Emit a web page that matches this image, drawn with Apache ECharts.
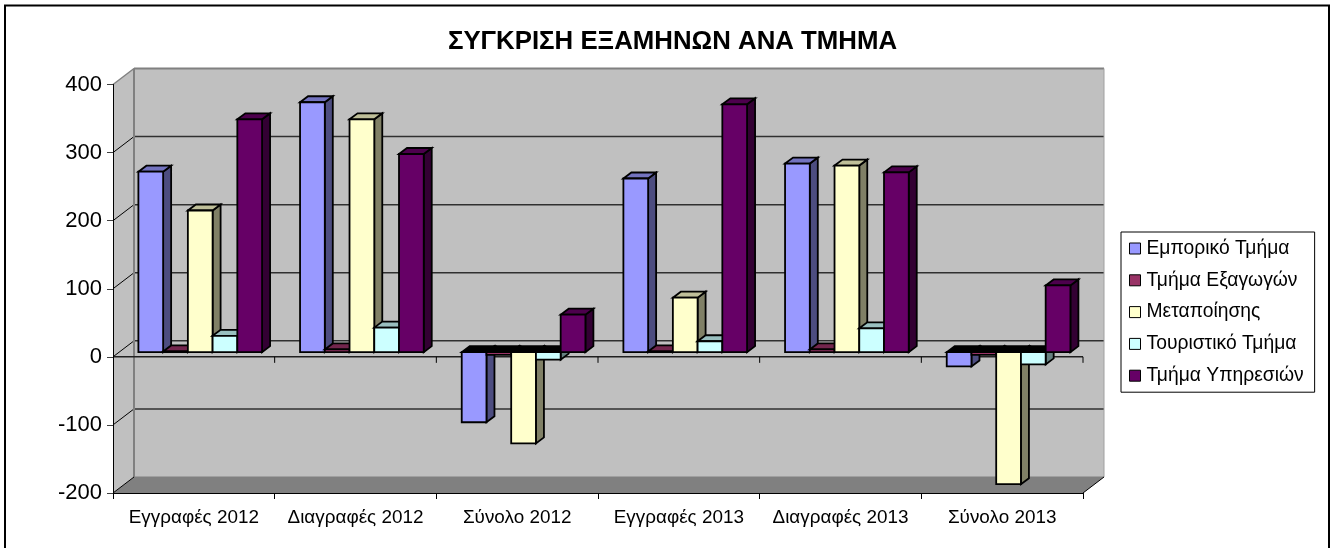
<!DOCTYPE html>
<html>
<head>
<meta charset="utf-8">
<script src="https://cdn.jsdelivr.net/npm/echarts@6/dist/echarts.min.js"></script>
<style>html,body{margin:0;padding:0;background:#fff}#c{width:1330px;height:548px}</style>
</head>
<body>
<div id="c"></div>
<script>
const titleText = 'ΣΥΓΚΡΙΣΗ ΕΞΑΜΗΝΩΝ ΑΝΑ ΤΜΗΜΑ';
const categories = ['Εγγραφές 2012','Διαγραφές 2012','Σύνολο 2012','Εγγραφές 2013','Διαγραφές 2013','Σύνολο 2013'];
const valueTicks = [-200,-100,0,100,200,300,400];
const seriesNames = ['Εμπορικό Τμήμα','Τμήμα Εξαγωγών','Μεταποίησης','Τουριστικό Τμήμα','Τμήμα Υπηρεσιών'];
const seriesColors = ['#9999FF','#993366','#FFFFCC','#CCFFFF','#660066'];
const emporiko    = [265, 367, -103, 255, 277, -21];
const exagogon    = [1, 4, -4, 1, 4, -4];
const metapoiisis = [208, 342, -134, 80, 274, -194];
const touristiko  = [24, 36, -11, 16, 35, -18];
const ypiresion   = [342, 291, 55, 364, 264, 98];
const seriesValues = [emporiko, exagogon, metapoiisis, touristiko, ypiresion];

const FONT = '"Liberation Sans", Arial, sans-serif';
// oblique projection of the box: back wall offset and the bars' placement in depth
const WALL_DX = 21, WALL_DY = -16;
const BAR_DX = 6.4, BAR_DY = -4.7, BAR_DEPTH_X = 8, BAR_DEPTH_Y = -6;
const BAR_FRACTION = 0.153;

function shade(hex, k) {
  const n = parseInt(hex.slice(1), 16);
  const c = [(n >> 16) & 255, (n >> 8) & 255, n & 255].map(v => Math.round(v * k));
  return 'rgb(' + c.join(',') + ')';
}
const poly = (points, fill, stroke, lw) => ({
  type: 'polygon', shape: { points },
  style: { fill, stroke: stroke || null, lineWidth: lw || 0, lineJoin: 'miter' }
});
const line = (x1, y1, x2, y2, stroke, lw) => ({
  type: 'line', shape: { x1, y1, x2, y2 }, style: { stroke, lineWidth: lw }
});

function renderBox(params, api) {
  const cs = params.coordSys;
  const L = cs.x, R = cs.x + cs.width;
  const yOf = v => api.coord([0, v])[1];
  const top = yOf(valueTicks[valueTicks.length - 1]), bot = yOf(valueTicks[0]);
  const dx = WALL_DX, dy = WALL_DY;
  const kids = [
    poly([[L + dx, top + dy], [R + dx, top + dy], [R + dx, bot + dy], [L + dx, bot + dy]], '#C0C0C0'),
    poly([[L, top], [L + dx, top + dy], [L + dx, bot + dy], [L, bot]], '#C0C0C0'),
    poly([[L, bot], [L + dx, bot + dy], [R + dx, bot + dy], [R, bot]], '#808080')
  ];
  valueTicks.slice(1, -1).forEach(v => {
    const y = yOf(v);
    kids.push(line(L + dx, y + dy, R + dx, y + dy, '#303030', 1.5));
    kids.push(line(L, y, L + dx, y + dy, '#000', 1));
  });
  kids.push(line(L + dx, top + dy, R + dx, top + dy, '#808080', 2));
  kids.push(line(L + dx, top + dy, L + dx, bot + dy, '#808080', 2));
  kids.push(line(R + dx, top + dy, R + dx, bot + dy, '#A0A0A0', 1));
  kids.push(line(L, top, L + dx, top + dy, '#808080', 1.5));
  kids.push(line(L + dx, bot + dy, R + dx, bot + dy, '#808080', 1));
  kids.push(line(L, bot, L + dx, bot + dy, '#000', 1));
  kids.push(line(R, bot, R + dx, bot + dy, '#000', 1));
  // zero line across the front of the box, with its tick marks
  const y0 = yOf(0);
  kids.push(line(L, y0, R, y0, '#202020', 1.5));
  categories.forEach((c, i) => {
    const x = L + cs.width * (i + 1) / categories.length;
    kids.push(line(x, y0, x, y0 + 6, '#000', 1));
  });
  return { type: 'group', children: kids };
}

function makeBarRender(seriesIndex) {
  return function (params, api) {
    const color = seriesColors[seriesIndex];
    const idx = api.value(0), val = api.value(1);
    const band = api.size([1, 0])[0];
    const w = band * BAR_FRACTION;
    const cx = api.coord([idx, 0])[0];
    const x0 = cx + BAR_DX + (seriesIndex - seriesNames.length / 2) * w;
    const x1 = x0 + w;
    const yz = api.coord([idx, 0])[1] + BAR_DY;
    const yv = api.coord([idx, val])[1] + BAR_DY;
    const yTop = Math.min(yz, yv), yBot = Math.max(yz, yv);
    const ex = BAR_DEPTH_X, ey = BAR_DEPTH_Y;
    const lw = 1.8;
    return {
      type: 'group',
      children: [
        poly([[x1, yTop], [x1 + ex, yTop + ey], [x1 + ex, yBot + ey], [x1, yBot]], shade(color, 0.5), '#000', lw),
        poly([[x0, yTop], [x0 + ex, yTop + ey], [x1 + ex, yTop + ey], [x1, yTop]], val < 0 ? '#000' : shade(color, 0.75), '#000', lw),
        poly([[x0, yTop], [x1, yTop], [x1, yBot], [x0, yBot]], color, '#000', lw)
      ]
    };
  };
}

const boxSeries = {
  type: 'custom', name: 'box', silent: true, z: 1,
  renderItem: renderBox, data: [[0, 0]], encode: { x: 0, y: 1 }
};
const barSeries = seriesNames.map((name, s) => ({
  type: 'custom', name, z: 2 + s,
  itemStyle: { color: seriesColors[s] },
  renderItem: makeBarRender(s),
  encode: { x: 0, y: 1 },
  data: seriesValues[s].map((v, i) => [i, v])
}));

const chart = echarts.init(document.getElementById('c'), null, { renderer: 'canvas' });
chart.setOption({
  animation: false,
  backgroundColor: '#fff',
  textStyle: { fontFamily: FONT },
  title: {
    text: titleText, left: 667.5, top: 24, textAlign: 'center',
    textStyle: { fontFamily: FONT, fontSize: 25.8, fontWeight: 'bold', color: '#000' }
  },
  grid: { left: 113, top: 84.5, width: 970, height: 408.5, containLabel: false },
  xAxis: {
    type: 'category', data: categories, z: 10,
    boundaryGap: true,
    axisLine: { onZero: false, lineStyle: { color: '#000', width: 1 } },
    axisTick: { show: true, length: 6, lineStyle: { color: '#000' } },
    axisLabel: { color: '#000', fontSize: 18.9, margin: 15, fontFamily: FONT, interval: 0 },
    splitLine: { show: false }
  },
  yAxis: {
    type: 'value', min: valueTicks[0], max: valueTicks[valueTicks.length - 1], interval: 100, z: 10,
    axisLine: { show: true, lineStyle: { color: '#000', width: 1 } },
    axisTick: { show: true, length: 6, lineStyle: { color: '#404040' } },
    axisLabel: { color: '#000', fontSize: 22, margin: 11, fontFamily: FONT, padding: [2, 0, 0, 0] },
    splitLine: { show: false }
  },
  legend: {
    orient: 'vertical', left: 1121, top: 232, selectedMode: false,
    itemWidth: 11, itemHeight: 11, itemGap: 12.8, icon: 'rect',
    padding: [7, 11, 7, 8],
    borderColor: '#000', borderWidth: 1, backgroundColor: '#fff',
    textStyle: { fontFamily: FONT, fontSize: 19.3, color: '#000', padding: [0, 0, 0, 1] },
    data: seriesNames.map(name => ({ name, icon: 'rect', itemStyle: { borderColor: '#000', borderWidth: 1 } }))
  },
  graphic: [{
    type: 'polyline', silent: true, z: 20,
    shape: { points: [[5, 548], [5, 5.5], [1329, 5.5], [1329, 548]] },
    style: { stroke: '#000', lineWidth: 2, fill: null }
  }],
  series: [boxSeries].concat(barSeries)
});
</script>
</body>
</html>
